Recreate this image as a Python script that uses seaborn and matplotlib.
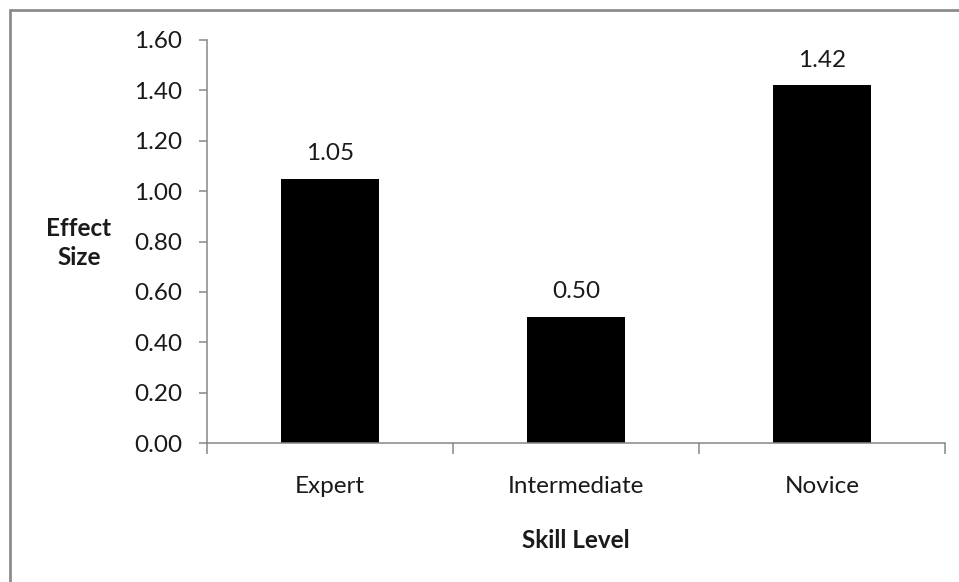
import matplotlib
matplotlib.use("Agg")
import matplotlib.pyplot as plt
import seaborn as sns
import pandas as pd
from matplotlib.lines import Line2D

skill_levels = ["Expert", "Intermediate", "Novice"]
effect_sizes = [1.05, 0.50, 1.42]
y_ticks = [0.00, 0.20, 0.40, 0.60, 0.80, 1.00, 1.20, 1.40, 1.60]

sns.set_style("white")
plt.rcParams["font.family"] = ["Lato", "DejaVu Sans"]

FS = 17.5

df = pd.DataFrame({"Skill Level": skill_levels, "Effect Size": effect_sizes})

fig = plt.figure(figsize=(9.59, 5.82), dpi=100)
ax = fig.add_axes([207 / 959, 1 - 443 / 582, 738 / 959, 403 / 582])

sns.barplot(data=df, x="Skill Level", y="Effect Size", color="black",
            width=0.40, saturation=1, ax=ax)
for p in ax.patches:
    p.set_edgecolor("none")

ax.set_xlim(-0.5, 2.5)
ax.set_ylim(0, 1.6)
ax.set_yticks(y_ticks)
ax.set_yticklabels([f"{v:.2f}" for v in y_ticks])

axis_gray = "#868686"
text_color = "#1a1a1a"
for side in ["top", "right"]:
    ax.spines[side].set_visible(False)
for side in ["left", "bottom"]:
    ax.spines[side].set_color(axis_gray)
    ax.spines[side].set_linewidth(1.1)

ax.tick_params(axis="y", which="major", direction="out", length=6, width=1.1,
               color=axis_gray, labelsize=FS, labelcolor=text_color, pad=12, left=True)
ax.tick_params(axis="x", which="major", length=0, labelsize=FS,
               labelcolor=text_color, pad=24)
ax.set_xticks([-0.5, 0.5, 1.5, 2.5], minor=True)
ax.tick_params(axis="x", which="minor", direction="out", length=8, width=1.1,
               color=axis_gray, bottom=True)

for i, v in enumerate(effect_sizes):
    ax.annotate(f"{v:.2f}", (i, v), xytext=(0, 10.5), textcoords="offset points",
                ha="center", va="bottom", fontsize=FS, color=text_color)

ax.set_xlabel("Skill Level", fontsize=FS, fontweight="bold", color=text_color)
ax.xaxis.set_label_coords(0.5, -0.213)
ax.set_ylabel("")
fig.text(79 / 959, 1 - 243 / 582, "Effect\nSize", ha="center", va="center",
         fontsize=FS, fontweight="bold", color=text_color, linespacing=1.3)

# chart frame along the top and left edges
frame_gray = "#8c8c8c"
fig.add_artist(Line2D([10 / 959, 1], [1 - 10 / 582, 1 - 10 / 582],
                      transform=fig.transFigure, color=frame_gray, lw=2))
fig.add_artist(Line2D([10 / 959, 10 / 959], [0, 1 - 10 / 582],
                      transform=fig.transFigure, color=frame_gray, lw=2))

fig.savefig("out.png", dpi=100, facecolor="white")
